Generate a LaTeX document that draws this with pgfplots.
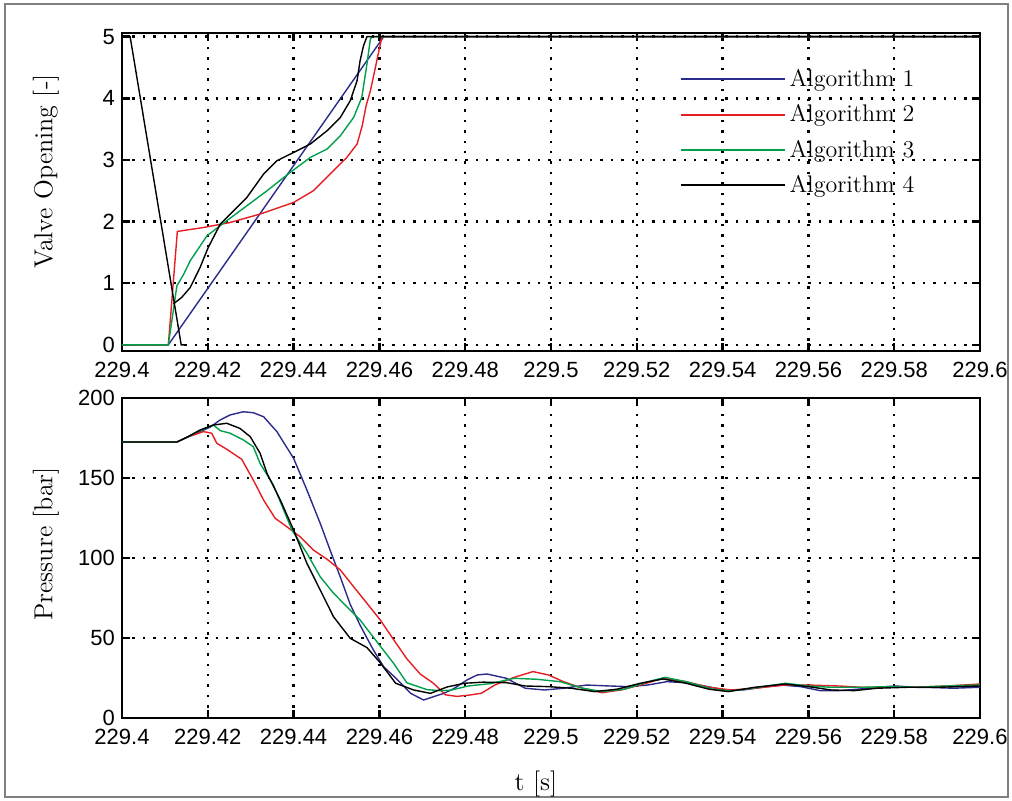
\documentclass[border=0pt]{standalone}
\usepackage{fontspec}
\usepackage{pgfplots}
\pgfplotsset{compat=1.18}
\newfontfamily\ticksf{Liberation Sans}
\definecolor{algblue}{RGB}{43,43,140}
\definecolor{algred}{RGB}{230,30,36}
\definecolor{alggreen}{RGB}{0,160,75}
\definecolor{framegray}{RGB}{128,128,128}
% keep full precision of t (all values are 229.xxxx): drop the integer part 229
\def\tstrip#1.#2.#3\relax{\def\pgfmathresult{0.#2}}
\def\tstripF#1.#2#3#4e#5\relax{\def\pgfmathresult{0.#4}}
\def\tcheck#1Y#2\relax{\ifx\relax#2\relax\tstrip#1..\relax\else\tstripF#2\relax\fi}
\def\xtrafo#1{\edef\tmpx{#1}\expandafter\tcheck\tmpx Y\relax}
\pgfplotsset{
  myaxis/.style={
    scale only axis, width=429pt,
    x coord trafo/.code={\xtrafo{##1}},
    xmin=229.4, xmax=229.6,
    xtick={229.4,229.42,229.44,229.46,229.48,229.5,229.52,229.54,229.56,229.58,229.6},
    xticklabels={229.4,229.42,229.44,229.46,229.48,229.5,229.52,229.54,229.56,229.58,229.6},
    grid=major,
    major grid style={black, line width=1.2pt, dash pattern=on 1.2pt off 4pt},
    axis line style={black, line width=1.2pt},
    tick align=inside, major tick length=4pt,
    tick style={black, line width=1.2pt},
    ticklabel style={font=\ticksf\fontsize{11}{13}\selectfont},
    xticklabel style={yshift=-2.2pt},
    label style={font=\fontsize{13}{15}\selectfont},
    every axis plot/.append style={line width=0.7pt},
  }
}
\begin{document}
\begin{tikzpicture}
\useasboundingbox (0pt,0pt) rectangle (506pt,-400.5pt);
\draw[framegray, line width=0.8pt] (2.5pt,-2pt) rectangle (504pt,-398.5pt);

\begin{axis}[myaxis, at={(61pt,-16.5pt)}, anchor=north west, height=159pt,
  ymin=-0.1, ymax=5.06,
  ytick={0,1,2,3,4,5}, yticklabels={0,1,2,3,4,5},
  ylabel={Valve Opening [-]},
  ylabel style={at={(axis description cs:-0.0886,0.564)}, anchor=center},
  legend style={draw=none, fill=none, at={(axis description cs:0.6492,0.8997)}, anchor=north west,
    font=\fontsize{12}{14}\selectfont, row sep=3.6pt, inner sep=0pt, cells={anchor=west}},
  legend image code/.code={\draw[#1, line width=1.1pt] (0pt,0pt) -- (52pt,0pt);},
]
\addplot[algblue] coordinates {(229.4,0) (229.4108,0) (229.4610,5) (229.6,5)};
\addlegendentry{Algorithm 1}
\addplot[algred] coordinates {(229.4,0) (229.4108,0) (229.4129,1.84) (229.4190,1.904) (229.4252,1.985) (229.4322,2.122) (229.4400,2.31) (229.4446,2.5) (229.4485,2.771) (229.4524,3.04) (229.4548,3.258) (229.4560,3.555) (229.4569,3.88) (229.4579,4.12) (229.4590,4.48) (229.4600,4.81) (229.4606,5) (229.6,5)};
\addlegendentry{Algorithm 2}
\addplot[alggreen] coordinates {(229.4,0) (229.4108,0) (229.4128,0.958) (229.4144,1.148) (229.4159,1.364) (229.4198,1.769) (229.4244,2.013) (229.4291,2.256) (229.4338,2.5) (229.4392,2.797) (229.4439,3.041) (229.4478,3.177) (229.4509,3.393) (229.4540,3.690) (229.4559,4.015) (229.4571,4.557) (229.4579,4.963) (229.4583,5) (229.6,5)};
\addlegendentry{Algorithm 3}
\addplot[black] coordinates {(229.4120,0.666) (229.4139,0.768) (229.4159,0.930) (229.4182,1.255) (229.4201,1.580) (229.4229,1.959) (229.4260,2.175) (229.4291,2.391) (229.4330,2.771) (229.4361,2.987) (229.4400,3.122) (229.4439,3.258) (229.4478,3.474) (229.4509,3.690) (229.4532,3.961) (229.4548,4.286) (229.4555,4.610) (229.4563,4.854) (229.4571,5) (229.6,5)};
\addlegendentry{Algorithm 4}
\addplot[black, forget plot] coordinates {(229.4,5) (229.4019,5) (229.4138,0) (229.4147,0)};
\end{axis}

\begin{axis}[myaxis, at={(61pt,-199pt)}, anchor=north west, height=160pt,
  ymin=0, ymax=200,
  ytick={0,50,100,150,200}, yticklabels={0,50,100,150,200},
  ylabel={Pressure [bar]},
  ylabel style={at={(axis description cs:-0.0886,0.544)}, anchor=center},
  xlabel={t [s]},
  xlabel style={at={(axis description cs:0.4825,-0.206)}, anchor=center},
]
\addplot[algblue] coordinates {(229.4,172.5) (229.4128,172.5) (229.4151,175.4) (229.4182,179) (229.4205,181.7) (229.4229,186.3) (229.4252,189.4) (229.4283,191.4) (229.4306,190.8) (229.4330,188.3) (229.4361,179) (229.4400,162.3) (229.4431,142.5) (229.4462,121.7) (229.4485,105) (229.4509,88) (229.4532,71) (229.4555,58) (229.4586,42.5) (229.4610,32) (229.4638,25) (229.4673,15.4) (229.4703,11.25) (229.4726,13.3) (229.4750,15.4) (229.4773,18.3) (229.4804,23.75) (229.4828,26.9) (229.4851,27.5) (229.4896,24.8) (229.4940,18.6) (229.4985,17.5) (229.5029,18.6) (229.5083,20.6) (229.5137,20) (229.5181,19.6) (229.5225,20.6) (229.5270,22.7) (229.5314,22.1) (229.5358,20) (229.5404,17.5) (229.5448,17.5) (229.5493,19.2) (229.5537,20.6) (229.5582,19.6) (229.5627,17.1) (229.5671,17.1) (229.5715,18) (229.5760,19.2) (229.5804,20) (229.5848,19.2) (229.5894,19) (229.5938,18.6) (229.6,19.2)};
\addplot[algred] coordinates {(229.4,172.5) (229.4128,172.5) (229.4151,175.4) (229.4190,179) (229.4209,178) (229.4221,171.7) (229.4244,168) (229.4279,161.7) (229.4306,148.75) (229.4330,136.25) (229.4357,124.8) (229.4384,119.6) (229.4415,113.3) (229.4446,105) (229.4478,99.2) (229.4509,92.5) (229.4540,82) (229.4571,71.7) (229.4602,61.25) (229.4633,49) (229.4664,37) (229.4695,27.5) (229.4726,21.7) (229.4754,14.5) (229.4781,13.5) (229.4812,14.4) (229.4838,15.5) (229.4869,20.6) (229.4914,25.4) (229.4958,29) (229.4994,26.9) (229.5029,22.7) (229.5074,18.6) (229.5119,15.8) (229.5163,17.5) (229.5208,20.6) (229.5261,24.8) (229.5315,22.7) (229.5368,19.2) (229.5421,17.5) (229.5475,18.6) (229.5546,20.6) (229.5600,20.6) (229.5671,20) (229.5725,19.2) (229.5787,19.2) (229.5849,19.2) (229.5921,20) (229.6,21.25)};
\addplot[alggreen] coordinates {(229.4,172.5) (229.4128,172.5) (229.4151,175.4) (229.4182,179.6) (229.4213,183.1) (229.4229,179.6) (229.4252,178) (229.4283,173.75) (229.4306,169.6) (229.4322,159) (229.4353,145.6) (229.4384,125.4) (229.4396,117.5) (229.4431,103) (229.4462,88.3) (229.4493,78) (229.4524,69.6) (229.4555,61.25) (229.4594,47.7) (229.4633,34.2) (229.4664,22) (229.4695,19.2) (229.4711,17.7) (229.4742,17.1) (229.4765,17.3) (229.4807,20) (229.4859,21.5) (229.4914,24.8) (229.4967,24.2) (229.5021,22.7) (229.5074,18.6) (229.5119,16.5) (229.5172,18) (229.5226,22.7) (229.5266,25.4) (229.5315,22.7) (229.5377,18) (229.5421,16.9) (229.5484,19.2) (229.5546,21.7) (229.5600,20) (229.5653,19.2) (229.5725,19.2) (229.5787,19.6) (229.5848,19.2) (229.5921,20) (229.6,20.6)};
\addplot[black] coordinates {(229.4,172.5) (229.4128,172.5) (229.4151,175.4) (229.4182,180) (229.4213,183.1) (229.4244,184.2) (229.4275,181) (229.4299,175.8) (229.4322,165.4) (229.4338,152.9) (229.4369,136.25) (229.4400,117.5) (229.4431,96.7) (229.4462,80) (229.4493,63.3) (229.4532,49.8) (229.4571,44) (229.4602,34.5) (229.4638,21.7) (229.4680,17.5) (229.4719,15.4) (229.4758,19.4) (229.4798,21.7) (229.4842,22.4) (229.4896,22.1) (229.4940,20) (229.4994,19.6) (229.5047,18.6) (229.5101,16.5) (229.5154,18) (229.5208,21.7) (229.5261,24.4) (229.5315,21.7) (229.5368,18) (229.5413,16.5) (229.5475,19.2) (229.5546,21.25) (229.5600,19.6) (229.5653,17.5) (229.5707,17.1) (229.5760,18.6) (229.5831,19.2) (229.5902,19.2) (229.6,20)};
\end{axis}
\end{tikzpicture}
\end{document}
